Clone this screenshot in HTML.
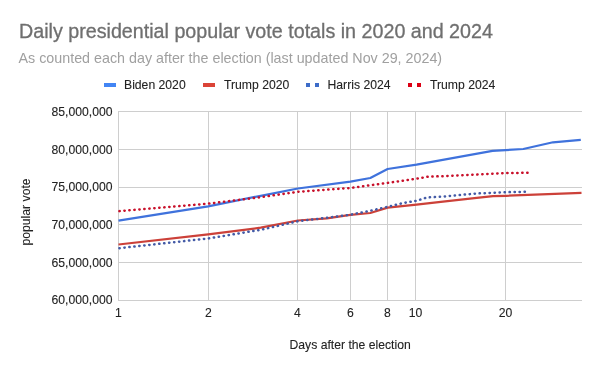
<!DOCTYPE html>
<html><head><meta charset="utf-8"><style>
html,body{margin:0;padding:0;background:#fff;width:600px;height:371px;overflow:hidden}
svg{display:block;will-change:transform}
text{font-family:"Liberation Sans",sans-serif}
.title{font-size:19.7px;fill:#6f6f6f;stroke:#6f6f6f;stroke-width:0.3px}
.sub{font-size:14.3px;fill:#a0a0a0}
.leg{font-size:12.2px;fill:#222222;stroke:#222222;stroke-width:0.1px}
.ax{font-size:12.2px;fill:#222222;stroke:#222222;stroke-width:0.1px}
</style></head><body>
<svg width="600" height="371" viewBox="0 0 600 371">
<line x1="118" y1="111.5" x2="582" y2="111.5" stroke="#cecece" stroke-width="1"/>
<line x1="118" y1="149.5" x2="582" y2="149.5" stroke="#cecece" stroke-width="1"/>
<line x1="118" y1="187.5" x2="582" y2="187.5" stroke="#cecece" stroke-width="1"/>
<line x1="118" y1="224.5" x2="582" y2="224.5" stroke="#cecece" stroke-width="1"/>
<line x1="118" y1="262.5" x2="582" y2="262.5" stroke="#cecece" stroke-width="1"/>
<line x1="118" y1="300.5" x2="582" y2="300.5" stroke="#cecece" stroke-width="1"/>
<line x1="118.5" y1="111" x2="118.5" y2="301" stroke="#cecece" stroke-width="1"/>
<line x1="208.5" y1="111" x2="208.5" y2="301" stroke="#cecece" stroke-width="1"/>
<line x1="297.5" y1="111" x2="297.5" y2="301" stroke="#cecece" stroke-width="1"/>
<line x1="350.5" y1="111" x2="350.5" y2="301" stroke="#cecece" stroke-width="1"/>
<line x1="387.5" y1="111" x2="387.5" y2="301" stroke="#cecece" stroke-width="1"/>
<line x1="415.5" y1="111" x2="415.5" y2="301" stroke="#cecece" stroke-width="1"/>
<line x1="505.5" y1="111" x2="505.5" y2="301" stroke="#cecece" stroke-width="1"/>
<text x="112.5" y="115.8" text-anchor="end" class="ax">85,000,000</text>
<text x="112.5" y="153.5" text-anchor="end" class="ax">80,000,000</text>
<text x="112.5" y="191.2" text-anchor="end" class="ax">75,000,000</text>
<text x="112.5" y="228.9" text-anchor="end" class="ax">70,000,000</text>
<text x="112.5" y="266.6" text-anchor="end" class="ax">65,000,000</text>
<text x="112.5" y="304.3" text-anchor="end" class="ax">60,000,000</text>
<text x="118.5" y="317" text-anchor="middle" class="ax">1</text>
<text x="208.5" y="317" text-anchor="middle" class="ax">2</text>
<text x="297.5" y="317" text-anchor="middle" class="ax">4</text>
<text x="350.5" y="317" text-anchor="middle" class="ax">6</text>
<text x="387.5" y="317" text-anchor="middle" class="ax">8</text>
<text x="415.5" y="317" text-anchor="middle" class="ax">10</text>
<text x="505.5" y="317" text-anchor="middle" class="ax">20</text>
<polyline points="118.5,220.7 208.2,206.3 260.7,195.8 297.9,188.5 350.4,181.6 370.3,178.0 387.6,169.0 416.5,164.6 492.5,150.8 523.3,149.0 553.0,142.3 580.8,139.8" fill="none" stroke="#3f72dc" stroke-width="2.2" stroke-linejoin="round"/>
<polyline points="118.5,244.5 208.2,234.4 260.7,227.7 297.9,220.5 326.8,218.3 350.4,214.9 370.3,213.0 387.6,207.6 416.5,204.7 443.0,201.7 476.7,197.8 493.0,196.2 506.0,195.8 581.5,192.8" fill="none" stroke="#cc4139" stroke-width="2.2" stroke-linejoin="round"/>
<polyline points="118.5,248.3 208.2,238.5 260.7,229.8 297.9,221.2 326.8,217.8 350.4,214.7 370.3,210.7 387.6,206.8 402.8,203.1 416.5,200.8 426.7,197.5 443.3,196.6 476.7,193.5 505.5,192.2 528.0,191.7" fill="none" stroke="#435aa6" stroke-width="2.5" stroke-dasharray="0.3 4.7" stroke-dashoffset="-0.9" stroke-linecap="round"/>
<polyline points="118.5,211.2 208.2,203.7 260.7,197.2 297.9,191.8 350.4,188.0 387.6,182.9 416.5,178.7 428.8,176.6 443.0,176.2 476.7,174.6 505.5,173.0 529.0,172.8" fill="none" stroke="#c8102a" stroke-width="2.5" stroke-dasharray="0.3 4.7" stroke-dashoffset="-0.9" stroke-linecap="round"/>
<text x="19" y="37.7" class="title">Daily presidential popular vote totals in 2020 and 2024</text>
<text x="18.5" y="62.8" class="sub">As counted each day after the election (last updated Nov 29, 2024)</text>
<rect x="104" y="83" width="12" height="4" fill="#4285f4"/>
<text x="124" y="88.7" class="leg">Biden 2020</text>
<rect x="203" y="83" width="12" height="4" fill="#db4437"/>
<text x="224" y="88.7" class="leg">Trump 2020</text>
<rect x="306" y="83" width="4" height="4" fill="#3d6cc8"/><rect x="315" y="83" width="4" height="4" fill="#3d6cc8"/>
<text x="327.5" y="88.7" class="leg">Harris 2024</text>
<rect x="408" y="83" width="4" height="4" fill="#dc0014"/><rect x="417" y="83" width="4" height="4" fill="#dc0014"/>
<text x="430" y="88.7" class="leg">Trump 2024</text>
<text x="289.5" y="349.1" class="ax">Days after the election</text>
<text transform="translate(30.1,245.5) rotate(-90)" x="0" y="0" class="ax">popular vote</text>
</svg>
</body></html>
